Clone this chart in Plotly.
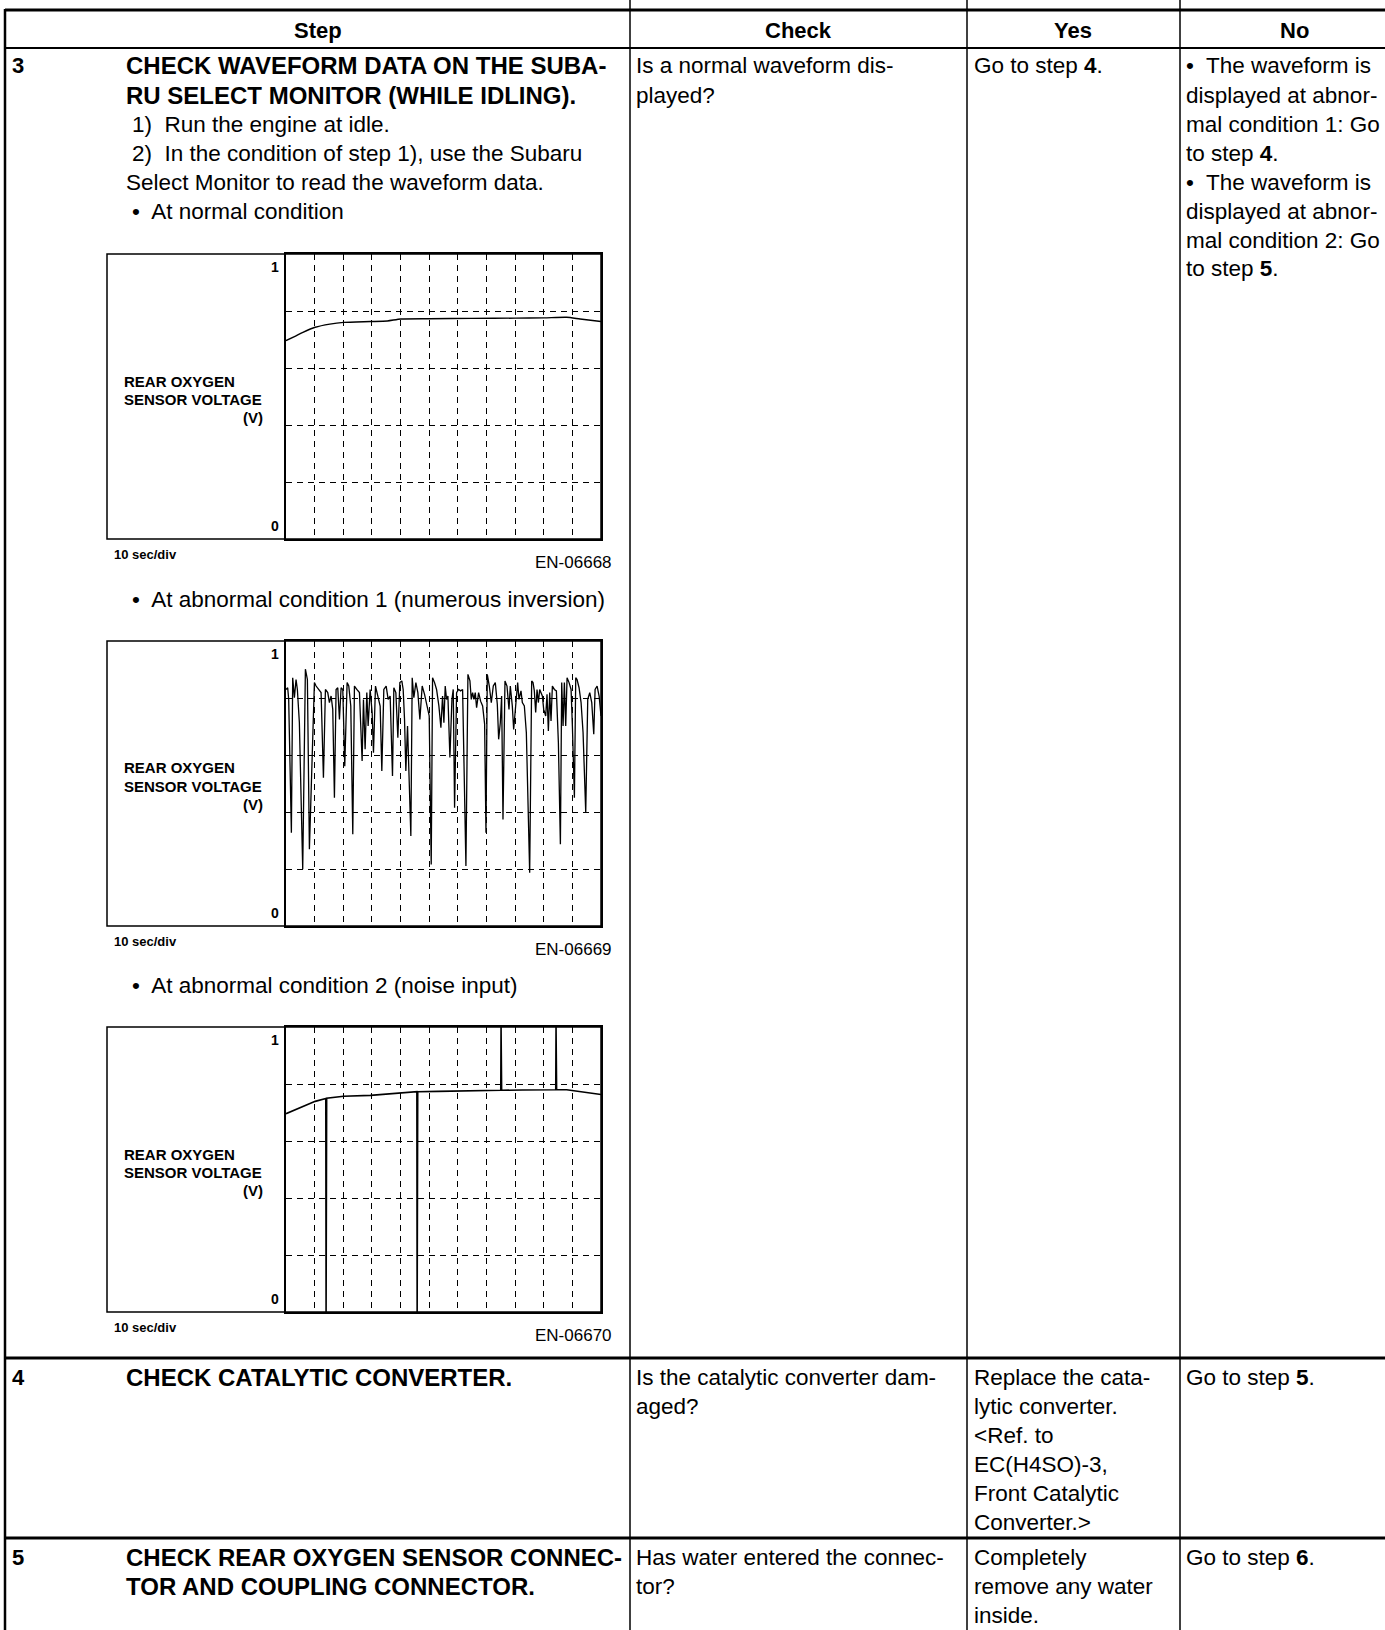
import plotly.graph_objects as go

W, H = 1385, 1630
FONT = "Liberation Sans, Arial, sans-serif"

# --- waveform data (time in sec, voltage in V) ---
normal_t = [0, 3.5, 5.9, 10.2, 15.3, 20.1, 29.5, 35.4, 40.1, 50.1, 64.9, 80.0, 90.1, 98.0, 102.7, 110]
normal_v = [0.696, 0.713, 0.725, 0.743, 0.754, 0.760, 0.763, 0.765, 0.772, 0.773, 0.774, 0.775,
            0.776, 0.778, 0.772, 0.763]

inversion_t = [0.0, 0.59, 0.94, 1.88, 2.34, 2.93, 3.51, 3.97, 4.67, 5.84, 6.77, 7.47, 8.17, 9.92,
               10.5, 11.43, 12.25, 13.07, 13.77, 14.58, 15.16, 15.75, 16.33, 16.91, 17.49, 18.08,
               18.66, 19.24, 19.83, 20.52, 21.34, 21.92, 22.62, 23.32, 23.9, 24.72, 25.65, 26.58,
               27.05, 27.63, 28.22, 28.68, 29.38, 30.08, 30.55, 31.25, 32.06, 32.88, 33.46, 34.16,
               34.98, 35.67, 36.37, 37.19, 37.66, 38.36, 39.06, 39.76, 40.45, 40.92, 41.39, 41.85,
               42.44, 43.6, 44.07, 44.65, 45.35, 46.05, 46.75, 47.56, 48.38, 49.08, 50.01, 50.71,
               51.18, 51.88, 52.58, 53.39, 54.09, 54.67, 55.14, 55.6, 56.07, 56.54, 57.24, 57.94,
               58.4, 58.87, 59.57, 60.27, 60.97, 61.67, 62.83, 63.53, 64.23, 64.7, 65.16, 65.63,
               66.09, 66.56, 67.26, 67.96, 68.66, 69.36, 69.83, 70.29, 70.99, 71.69, 72.39, 73.09,
               73.79, 74.26, 74.84, 75.3, 75.77, 76.47, 77.17, 77.87, 78.33, 79.03, 79.5, 80.2,
               80.9, 81.36, 82.06, 82.53, 83.23, 83.93, 84.63, 85.09, 85.79, 86.26, 86.72, 87.19,
               87.66, 88.12, 88.59, 89.06, 89.52, 89.99, 90.69, 91.15, 91.62, 92.09, 92.55, 93.02,
               93.72, 94.42, 95.12, 95.82, 96.28, 96.75, 97.21, 97.68, 98.15, 98.85, 99.55, 100.01,
               100.71, 101.18, 101.64, 102.34, 103.04, 103.74, 104.67, 105.37, 106.07, 106.77,
               107.47, 107.94, 108.64, 109.34, 110.0]
inversion_v = [0.830, 0.836, 0.795, 0.327, 0.871, 0.801, 0.865, 0.830, 0.713, 0.199, 0.901, 0.865,
               0.269, 0.854, 0.842, 0.830, 0.819, 0.520, 0.830, 0.819, 0.784, 0.807, 0.760, 0.450,
               0.830, 0.836, 0.725, 0.836, 0.830, 0.561, 0.854, 0.842, 0.772, 0.322, 0.842, 0.830,
               0.819, 0.579, 0.795, 0.620, 0.819, 0.702, 0.830, 0.749, 0.608, 0.842, 0.807, 0.772,
               0.544, 0.830, 0.842, 0.795, 0.807, 0.526, 0.836, 0.819, 0.661, 0.854, 0.860, 0.830,
               0.725, 0.544, 0.702, 0.316, 0.871, 0.801, 0.854, 0.819, 0.725, 0.842, 0.813, 0.778,
               0.737, 0.216, 0.871, 0.854, 0.830, 0.772, 0.696, 0.807, 0.713, 0.842, 0.795, 0.807,
               0.591, 0.795, 0.830, 0.415, 0.819, 0.830, 0.825, 0.830, 0.211, 0.883, 0.860, 0.795,
               0.819, 0.795, 0.819, 0.766, 0.819, 0.789, 0.772, 0.708, 0.327, 0.883, 0.842, 0.784,
               0.842, 0.854, 0.778, 0.655, 0.713, 0.807, 0.374, 0.860, 0.842, 0.760, 0.842, 0.772,
               0.690, 0.772, 0.854, 0.795, 0.825, 0.784, 0.772, 0.678, 0.386, 0.187, 0.860, 0.854,
               0.825, 0.749, 0.830, 0.784, 0.830, 0.819, 0.807, 0.760, 0.737, 0.813, 0.684, 0.819,
               0.719, 0.842, 0.830, 0.825, 0.643, 0.287, 0.854, 0.702, 0.854, 0.702, 0.871, 0.854,
               0.830, 0.702, 0.450, 0.871, 0.865, 0.836, 0.784, 0.678, 0.398, 0.795, 0.819, 0.784,
               0.673, 0.830, 0.842, 0.807, 0.737]

noise_t = [0, 5.9, 10.2, 13.9, 14.0, 14.2, 20.1, 29.5, 35.4, 41.9, 45.7, 45.8, 46.0, 53.1, 64.9,
           75.0, 75.1, 75.3, 82.6, 94.2, 94.3, 94.5, 98.0, 102.7, 110]
noise_v = [0.696, 0.722, 0.739, 0.749, 0.0, 0.750, 0.757, 0.760, 0.765, 0.772, 0.773, 0.0, 0.773,
           0.774, 0.775, 0.778, 1.0, 0.778, 0.779, 0.780, 1.0, 0.780, 0.780, 0.773, 0.763]

fig_codes = ["EN-06668", "EN-06669", "EN-06670"]
headers = ["Step", "Check", "Yes", "No"]


def px(x):
    return x / W


def py(y):
    return 1 - y / H


fig = go.Figure()
ann = []
shapes = []


def text(x, y, s, size=22.5, anchor="left", bold=False):
    if bold:
        s = "<b>" + s + "</b>"
    ann.append(dict(x=px(x), y=py(y), xref="paper", yref="paper", text=s, showarrow=False,
                    xanchor=anchor, yanchor="middle", align=anchor,
                    font=dict(family=FONT, size=size, color="black")))


def hline(x0, x1, y, w=2):
    shapes.append(dict(type="line", xref="paper", yref="paper", x0=px(x0), x1=px(x1),
                       y0=py(y), y1=py(y), line=dict(color="black", width=w)))


def vline(x, y0, y1, w=2):
    shapes.append(dict(type="line", xref="paper", yref="paper", x0=px(x), x1=px(x),
                       y0=py(y0), y1=py(y1), line=dict(color="black", width=w)))


# --- table frame ---
cols = [630, 967, 1180]
hline(5, W, 10, 3)
hline(5, W, 48, 2)
hline(5, W, 1358, 3)
hline(5, W, 1538, 3)
vline(5, 9, H, 2.5)
for c in cols:
    vline(c, 0, H, 1.5)

# header
for hx, h in zip([318, 798, 1073, 1294], headers):
    text(hx, 30, h, 22, "center", True)

# --- row 3 ---
L0, LH = 66, 29
text(10, L0, "3", 22, bold=True)
text(124, L0, "CHECK WAVEFORM DATA ON THE SUBA-", 24, bold=True)
text(124, L0 + LH, "RU SELECT MONITOR (WHILE IDLING).", 24, bold=True)
text(130, L0 + 2 * LH, "1)  Run the engine at idle.", 22.5)
text(130, L0 + 3 * LH, "2)  In the condition of step 1), use the Subaru", 22.5)
text(124, L0 + 4 * LH, "Select Monitor to read the waveform data.", 22.5)
text(130, L0 + 5 * LH, "•  At normal condition", 22.5)
text(130, 599, "•  At abnormal condition 1 (numerous inversion)", 22.5)
text(130, 986, "•  At abnormal condition 2 (noise input)", 22.5)

text(634, L0, "Is a normal waveform dis-", 22.5)
text(634, L0 + LH, "played?", 22.5)
text(972, L0, "Go to step <b>4</b>.", 22.5)
no3 = ["•  The waveform is", "displayed at abnor-", "mal condition 1: Go", "to step <b>4</b>.",
       "•  The waveform is", "displayed at abnor-", "mal condition 2: Go", "to step <b>5</b>."]
for i, s in enumerate(no3):
    text(1184, L0 + i * LH, s, 22.5)

# --- row 4 ---
R4 = 1377
text(10, R4, "4", 22, bold=True)
text(124, R4, "CHECK CATALYTIC CONVERTER.", 24, bold=True)
for i, s in enumerate(["Is the catalytic converter dam-", "aged?"]):
    text(634, R4 + i * LH, s, 22.5)
for i, s in enumerate(["Replace the cata-", "lytic converter.", "&lt;Ref. to", "EC(H4SO)-3,",
                       "Front Catalytic", "Converter.&gt;"]):
    text(972, R4 + i * LH, s, 22.5)
text(1184, R4, "Go to step <b>5</b>.", 22.5)

# --- row 5 ---
R5 = 1557
text(10, R5, "5", 22, bold=True)
text(124, R5, "CHECK REAR OXYGEN SENSOR CONNEC-", 24, bold=True)
text(124, R5 + LH, "TOR AND COUPLING CONNECTOR.", 24, bold=True)
for i, s in enumerate(["Has water entered the connec-", "tor?"]):
    text(634, R5 + i * LH, s, 22.5)
for i, s in enumerate(["Completely", "remove any water", "inside."]):
    text(972, R5 + i * LH, s, 22.5)
text(1184, R5, "Go to step <b>6</b>.", 22.5)

# --- waveform charts ---
BOX_L, DIV, BOX_R, BOX_H = 107, 286, 601, 285
charts = [(254, normal_t, normal_v, "spline", 1.4),
          (641, inversion_t, inversion_v, "linear", 1.3),
          (1027, noise_t, noise_v, "linear", 1.6)]

layout_axes = {}
for i, (top, t, v, shape, lw) in enumerate(charts, start=1):
    bot = top + BOX_H
    xa = "x" if i == 1 else f"x{i}"
    ya = "y" if i == 1 else f"y{i}"
    fig.add_trace(go.Scatter(x=t, y=v, mode="lines", xaxis=xa, yaxis=ya, showlegend=False,
                             line=dict(color="black", width=lw, shape=shape, smoothing=0.6)))
    axis_common = dict(showgrid=True, gridcolor="black", gridwidth=1, griddash="6px,5px",
                       zeroline=False, showticklabels=False, ticks="", showline=True,
                       linecolor="black", linewidth=1.5, mirror=True, fixedrange=True)
    layout_axes["xaxis" if i == 1 else f"xaxis{i}"] = dict(
        domain=[px(DIV), px(BOX_R)], range=[0, 110], dtick=10, tick0=0,
        anchor=ya, **axis_common)
    layout_axes["yaxis" if i == 1 else f"yaxis{i}"] = dict(
        domain=[py(bot), py(top)], range=[0, 1], dtick=0.2, tick0=0,
        anchor=xa, **axis_common)
    shapes.append(dict(type="rect", xref="paper", yref="paper", x0=px(BOX_L), x1=px(BOX_R),
                       y0=py(bot), y1=py(top), line=dict(color="black", width=1.5)))
    for val, ya_anchor, shift in [(1, "top", -3), (0, "bottom", 3)]:
        ann.append(dict(x=px(DIV - 5), y=val, xref="paper", yref=ya, text=f"<b>{val}</b>",
                        showarrow=False, xanchor="right", yanchor=ya_anchor, yshift=shift,
                        font=dict(family=FONT, size=14, color="black")))
    text(122, top + 127, "REAR OXYGEN", 15, bold=True)
    text(122, top + 145, "SENSOR VOLTAGE", 15, bold=True)
    text(265, top + 163, "(V)", 15, "right", True)
    text(112, bot + 15, "10 sec/div", 13, bold=True)
    text(614, bot + 23, fig_codes[i - 1], 17, "right")

fig.update_layout(width=W, height=H, margin=dict(l=0, r=0, t=0, b=0),
                  paper_bgcolor="white", plot_bgcolor="white",
                  annotations=ann, shapes=shapes, **layout_axes)

# drop the browser's default 8px body margin so the page starts at the window corner
fig.write_html("out.html", config={"displayModeBar": False},
               post_script="document.body.style.margin='0';")
